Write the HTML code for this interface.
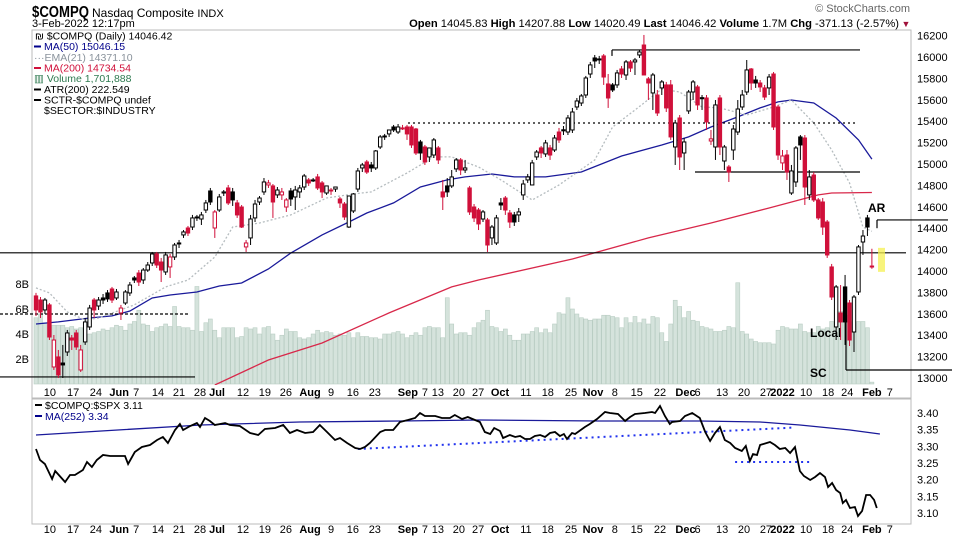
<!DOCTYPE html>
<html><head><meta charset="utf-8"><style>
body{margin:0;background:#fff;}
svg{display:block;font-family:"Liberation Sans",sans-serif;}
</style></head><body>
<svg id="c" width="960" height="540" viewBox="0 0 960 540">
<defs><clipPath id="mainClip"><rect x="32" y="30" width="879" height="355"/></clipPath>
<clipPath id="rsClip"><rect x="32" y="399" width="879" height="125"/></clipPath></defs>
<g>
<text x="32" y="17" font-size="16" font-weight="bold" textLength="57" lengthAdjust="spacingAndGlyphs">$COMPQ</text>
<text x="92" y="17" font-size="12">Nasdaq Composite <tspan font-size="11">INDX</tspan></text>
<text x="32" y="27" font-size="11">3-Feb-2022 12:17pm</text>
<text x="910" y="12" font-size="11" fill="#666" text-anchor="end">© StockCharts.com</text>
<text x="899" y="27" font-size="11.2" text-anchor="end"><tspan font-weight="bold">Open</tspan> 14045.83  <tspan font-weight="bold">High</tspan> 14207.88  <tspan font-weight="bold">Low</tspan> 14020.49  <tspan font-weight="bold">Last</tspan> 14046.42  <tspan font-weight="bold">Volume</tspan> 1.7M  <tspan font-weight="bold">Chg</tspan> -371.13 (-2.57%)</text>
<text x="906" y="27" font-size="9" fill="#a0103a" text-anchor="middle">▼</text>
</g>
<rect x="32" y="30" width="879" height="368" fill="none" stroke="#bbb"/>
<rect x="32" y="399" width="879" height="125" fill="none" stroke="#bbb"/>
<g id="vol" clip-path="url(#mainClip)"></g>
<g id="mas" clip-path="url(#mainClip)"></g>
<g id="ann"></g>
<g id="candles" clip-path="url(#mainClip)"></g>
<g id="axes"></g>
<g id="rs" clip-path="url(#rsClip)"></g>
<g font-size="10.5">
<text x="35" y="39.5">₪ $COMPQ (Daily) 14046.42</text>
<rect x="34" y="45.5" width="7" height="2" fill="#00008b"/><text x="44" y="50" fill="#00008b">MA(50) 15046.15</text>
<text x="34" y="61" fill="#8a939c">···EMA(21) 14371.10</text>
<rect x="34" y="67" width="7" height="2" fill="#d0103a"/><text x="44" y="71.5" fill="#d0103a">MA(200) 14734.54</text>
<text x="34" y="82" fill="#2e7a50">▥ Volume 1,701,888</text>
<rect x="34" y="88.5" width="7" height="2" fill="#000"/><text x="44" y="93">ATR(200) 222.549</text>
<rect x="34" y="99" width="7" height="2" fill="#000"/><text x="44" y="103.5">SCTR-$COMPQ undef</text>
<text x="44" y="114">$SECTOR:$INDUSTRY</text>
</g>
<g font-size="10.5">
<rect x="35" y="404" width="7" height="2" fill="#000"/><text x="45" y="409">$COMPQ:$SPX 3.11</text>
<rect x="35" y="415" width="7" height="2" fill="#00008b"/><text x="45" y="420" fill="#00008b">MA(252) 3.34</text>
</g>
</svg>
<script>
const opens=[13767,13729,13636,13683,13103,13197,13140,13243,13374,13421,
13075,13337,13477,13729,13673,13748,13795,13832,13748,13608,
13701,13795,13935,13981,13916,14009,14075,14159,14084,13991,
14038,14131,14262,14337,14402,14411,14505,14486,14570,14748,
14402,14570,14729,14776,14739,14636,14598,14225,14309,14496,
14645,14739,14804,14795,14711,14711,14598,14748,14692,14739,
14785,14851,14851,14879,14823,14729,14757,14766,14673,14626,
14411,14561,14766,14963,15019,14991,14963,15159,15262,15281,
15346,15299,15337,15346,15346,15327,15206,15159,15066,15084,
15150,14739,14795,14795,14954,15038,14944,14776,14598,14570,
14486,14477,14309,14262,14636,14682,14542,14524,14524,14711,
14851,14804,15066,15150,15094,15150,15131,15299,15320,15299,
15318,15533,15570,15645,15841,15991,15982,16010,15748,15739,
15739,15888,15832,15954,15954,16019,16112,15795,15664,15645,
15711,15739,15739,15159,15430,15103,15496,15673,15720,15620,
15617,15215,15159,15617,15028,14972,15131,15299,15533,15673,
15888,15785,15757,15711,15711,15841,15533,15010,15084,14729,
14832,15253,15243,14711,14897,14664,14645,14458,14038,13477,
13608,13851,13701,13430,13804,14271,14496,14045.83];
const highs=[13795,13757,13748,13701,13402,13262,13309,13449,13402,13449,
13309,13561,13683,13748,13757,13785,13822,13851,13832,13683,
13822,13897,13953,14009,14028,14084,14178,14178,14122,14178,
14159,14262,14290,14383,14421,14524,14524,14552,14664,14776,
14570,14720,14757,14804,14776,14664,14617,14290,14524,14664,
14701,14869,14851,14813,14785,14776,14682,14776,14795,14804,
14907,14869,14869,14907,14841,14795,14776,14785,14692,14645,
14701,14729,14963,15010,15038,15019,15131,15271,15281,15318,
15365,15374,15365,15365,15365,15337,15225,15178,15150,15243,
15168,14851,14869,14944,15056,15056,15038,14795,14626,14589,
14570,14496,14430,14524,14682,14701,14570,14552,14589,14851,
14907,15038,15131,15168,15225,15178,15271,15337,15355,15458,
15524,15617,15654,15823,15954,16019,16010,16028,15841,15757,
15879,15916,15972,15972,15991,16066,16206,15813,15851,15692,
15785,15767,15785,15412,15458,15243,15692,15785,15739,15645,
15645,15318,15598,15645,15178,14991,15365,15598,15692,15972,
15897,15823,15785,15739,15841,15860,15552,15131,15131,14991,
15168,15271,15271,14944,14925,14682,14682,14477,14066,13869,
13869,13963,13729,13776,14243,14383,14524,14207.88];
const lows=[13580,13561,13598,13355,13075,13000,13000,13206,13262,13262,
13056,13309,13449,13561,13636,13692,13711,13701,13729,13542,
13683,13767,13888,13860,13879,13991,14047,14028,13897,13963,
13935,14103,14215,14309,14327,14383,14468,14430,14542,14617,
14309,14552,14701,14617,14608,14496,14402,14178,14243,14458,
14617,14711,14776,14496,14682,14664,14552,14608,14570,14682,
14757,14795,14832,14757,14682,14711,14711,14739,14589,14477,
14402,14542,14739,14925,14907,14925,14944,15140,15225,15253,
15299,15281,15318,15225,15150,15084,15038,14991,15019,15056,
15000,14570,14692,14776,14925,14897,14916,14524,14458,14383,
14458,14178,14243,14243,14570,14524,14402,14421,14458,14664,
14823,14804,15038,15056,15066,15038,15112,15197,15271,15271,
15290,15505,15542,15617,15804,15897,15935,15739,15524,15673,
15711,15804,15785,15860,15832,15991,15832,15598,15505,15449,
15645,15486,15225,14991,14944,14944,15468,15598,15505,15505,
15318,15178,15038,15084,14944,14832,15038,15271,15505,15645,
15692,15711,15673,15598,15645,15318,15038,14944,14851,14711,
14785,15038,14617,14664,14645,14477,14337,14122,13729,13355,
13355,13309,13299,13243,13776,14150,14327,14020.49];
const closes=[13636,13617,13729,13383,13355,13028,13122,13421,13355,13290,
13262,13524,13654,13636,13729,13729,13739,13729,13804,13654,
13804,13869,13916,13897,14009,14056,14159,14056,14009,14150,
14131,14243,14253,14365,14355,14496,14496,14524,14636,14645,
14552,14692,14739,14636,14664,14524,14411,14262,14486,14626,
14682,14832,14823,14645,14757,14739,14664,14673,14757,14776,
14888,14823,14851,14776,14739,14795,14757,14785,14636,14505,
14701,14720,14935,14991,14925,14963,15122,15253,15253,15318,
15318,15346,15337,15281,15178,15103,15103,15019,15150,15225,
15038,14692,14739,14879,15038,14944,14963,14552,14496,14440,
14552,14243,14411,14496,14617,14570,14458,14458,14552,14813,
14879,15010,15112,15103,15197,15084,15243,15225,15310,15430,
15486,15589,15636,15804,15926,15963,15982,15813,15617,15692,
15851,15841,15954,15897,15972,16047,15832,15757,15832,15477,
15767,15524,15253,15383,15066,15206,15673,15767,15552,15610,
15393,15235,15552,15159,15159,14925,15327,15514,15645,15879,
15757,15757,15720,15626,15813,15346,15084,15075,14925,14935,
15150,15178,14785,14879,14664,14496,14411,14150,13757,13851,
13524,13524,13355,13757,14225,14327,14411,14046.42];
const volumes=[5.3,5.6,4.9,4.7,4.7,4.7,4.7,4.5,4.6,4.4,4.5,4.3,4.0,4.1,4.2,4.4,4.3,4.5,4.7,4.6,
4.3,4.8,5.0,5.9,4.8,4.7,4.2,4.5,4.6,4.8,4.6,6.2,4.6,4.5,4.5,
4.3,7.8,4.2,4.9,5.2,4.3,3.7,4.5,4.5,4.5,3.7,3.8,4.5,4.4,4.5,4.0,4.5,4.6,4.0,3.5,3.9,4.4,4.2,4.2,3.7,
3.6,3.7,4.0,4.3,4.1,4.2,4.1,3.9,4.0,3.9,4.1,3.7,4.1,3.8,3.8,3.7,3.7,3.6,4.0,4.0,
4.1,4.2,4.0,3.7,3.9,4.1,3.9,4.5,4.6,4.5,4.5,3.7,6.9,4.8,4.0,4.1,4.1,3.9,4.5,4.9,
5.1,5.9,4.6,4.5,4.2,4.4,3.9,3.5,3.5,4.0,4.0,4.2,4.5,4.1,4.4,4.1,4.8,5.7,5.6,6.9,
6.0,5.6,5.3,5.2,5.1,5.2,5.2,5.5,5.5,5.4,5.3,4.5,5.3,4.9,5.4,4.9,5.2,4.8,5.4,5.3,
4.1,3.4,4.8,6.7,6.2,5.3,5.8,5.1,5.0,4.6,4.5,4.4,
4.2,4.2,4.3,4.6,4.5,8.1,4.2,4.0,3.6,3.4,3.3,3.3,3.3,3.2,4.3,4.6,4.5,4.4,4.4,4.8,
4.2,4.1,4.1,4.6,4.4,4.5,5.0,5.9,5.8,5.5,5.0,4.9,5.0,5.0,4.5,0.15];
const ma50Bars=[0,5,12,17,21,26,30,36,41,46,52,57,64,70,74,80,86,92,96,102,107,114,122,131,140,146,151,157,162,166,169,174,179,184,187];
const ma50Vals=[13505,13524,13561,13580,13626,13748,13776,13804,13860,13888,14019,14168,14337,14458,14542,14636,14785,14851,14879,14907,14879,14879,14925,15075,15178,15253,15346,15440,15524,15580,15598,15570,15430,15225,15046];
const ma200Bars=[40,52,64,79,93,99,120,137,151,164,175,178,187];
const ma200Vals=[12935,13168,13327,13608,13851,13916,14112,14309,14449,14589,14711,14729,14734];
const emaBars=[0,3,7,11,14,22,29,34,40,44,50,57,65,71,75,83,89,93,99,104,111,117,125,129,134,140,144,149,153,159,165,169,174,178,182,185,187];
const emaVals=[13842,13795,13617,13542,13561,13683,13851,13916,14131,14411,14449,14524,14682,14720,14739,14916,15066,15066,14972,14851,14664,14804,15038,15346,15505,15701,15673,15533,15524,15458,15533,15598,15383,15131,14823,14411,14371];
const rsBars=[0,0.9,2,3.6,4.3,6.5,7.6,8.7,10.5,11.4,12.5,13.6,15,16.6,19.9,20.6,22.1,23.7,25.5,27.1,28.4,29.5,31.1,32.2,32.9,34.5,36,36.7,37.8,38.9,40,42.3,43.4,45.6,47.9,49.7,51.2,53.5,55.3,56.8,58.4,60.2,62,63.5,65.1,66.9,68,69.6,71.4,72.5,73.6,74.7,77,78.1,79.9,81.4,83.2,84.8,85.9,87,89.3,90.8,92.6,93.7,95.3,96.6,98.2,99.3,100.4,101.6,102.5,103.8,104.5,106,107.2,108.3,109.4,110.5,111.6,112.8,113.9,115,116.1,117.2,118.1,118.8,119.9,120.6,122.8,123.9,125.5,127.3,128.4,130.2,131.8,132.9,134,136.2,137.8,138.5,139.6,140.7,141.8,142.3,144.1,145.2,146.8,148.5,149.7,150.8,151.9,153,154.1,155.3,156.4,157.9,158.8,159.7,160.4,161.3,162,164.2,165.3,166.4,167.6,168.7,169.8,170.9,171.8,173.2,174.3,175.4,176.5,177.2,178.1,179,179.9,180.5,181.2,182.1,183.2,183.9,184.8,185.7,186.6,187.5,188.1];
const rsVals=[3.292,3.259,3.247,3.202,3.226,3.193,3.214,3.214,3.229,3.253,3.238,3.259,3.274,3.271,3.271,3.247,3.283,3.298,3.304,3.319,3.328,3.310,3.349,3.367,3.349,3.361,3.370,3.358,3.385,3.376,3.364,3.370,3.364,3.361,3.340,3.334,3.352,3.355,3.364,3.340,3.349,3.340,3.343,3.364,3.343,3.319,3.325,3.310,3.295,3.292,3.298,3.310,3.343,3.349,3.349,3.373,3.379,3.385,3.400,3.391,3.391,3.385,3.385,3.394,3.382,3.388,3.379,3.373,3.343,3.337,3.355,3.346,3.325,3.334,3.328,3.331,3.322,3.322,3.331,3.334,3.328,3.340,3.343,3.331,3.337,3.322,3.340,3.337,3.358,3.367,3.382,3.403,3.400,3.397,3.376,3.388,3.397,3.400,3.403,3.400,3.421,3.391,3.367,3.373,3.376,3.391,3.400,3.385,3.343,3.316,3.340,3.358,3.319,3.310,3.295,3.286,3.301,3.256,3.277,3.274,3.304,3.313,3.304,3.292,3.295,3.280,3.298,3.226,3.211,3.199,3.208,3.220,3.208,3.178,3.190,3.169,3.160,3.130,3.139,3.115,3.118,3.091,3.106,3.154,3.154,3.139,3.115];
const rsMaBars=[0,14.6,36.9,59,81.4,99.3,126,148.5,162,170.9,182.1,188.8];
const rsMaVals=[3.334,3.346,3.364,3.373,3.376,3.379,3.376,3.376,3.373,3.364,3.349,3.337];
const priceTicks=[13000,13200,13400,13600,13800,14000,14200,14400,14600,14800,15000,15200,15400,15600,15800,16000,16200];
const volTicks=[2,4,6,8];
const rsTicks=[3.10,3.15,3.20,3.25,3.30,3.35,3.40];
const dateBars=[3.1,8.3,13.4,18.6,22.4,27.3,32,36.7,40.5,46.3,51.2,55.9,61.3,66,70.9,75.8,83.2,87,89.9,94.6,98.9,103.8,109.6,114.5,119.7,124.6,129.5,134.4,139.6,145.3,148,153.5,158.4,163.3,167,172.3,177.2,181.5,187,191];
const dateLabels=["10","17","24","Jun","7","14","21","28","Jul","12","19","26","Aug","9","16","23","Sep","7","13","20","27","Oct","11","18","25","Nov","8","15","22","Dec","6","13","20","27","2022","10","18","24","Feb","7"];
const boldLabels=["Jun","Jul","Aug","Sep","Oct","Nov","Dec","2022","Feb"];

const NS="http://www.w3.org/2000/svg";
const xB=i=>36+4.47*i;
const yP=p=>164-(p-15000)*0.107;
const yV=v=>384-12.5*v;
const yR=v=>413+(3.40-v)*333.3;
function mk(tag,attrs,parent){const e=document.createElementNS(NS,tag);for(const k in attrs)e.setAttribute(k,attrs[k]);parent.appendChild(e);return e;}
const gVol=document.getElementById('vol'),gC=document.getElementById('candles'),gM=document.getElementById('mas'),gA=document.getElementById('axes'),gR=document.getElementById('rs'),gN=document.getElementById('ann');

volumes.forEach((v,i)=>{
 const r=mk('rect',{x:xB(i)-2,y:yV(v),width:4,height:384-yV(v),fill:'#d5e3dc',stroke:'#b9cdc3','stroke-width':0.6},gVol);
 
 
});
function line(bars,vals,yf,attrs,name,parent){
 const d=bars.map((b,i)=>(i?'L':'M')+xB(b).toFixed(1)+' '+yf(vals[i]).toFixed(1)).join(' ');
 const p=mk('path',Object.assign({d:d,fill:'none'},attrs),parent);
 
 
}
line(ma200Bars,ma200Vals,yP,{stroke:'#d8284a','stroke-width':1.3},'ma200-line',gM);
line(ma50Bars,ma50Vals,yP,{stroke:'#1a1a9a','stroke-width':1.3},'ma50-line',gM);
line(emaBars,emaVals,yP,{stroke:'#b5bcbf','stroke-width':1.3,'stroke-dasharray':'2 2'},'ema21-line',gM);

closes.forEach((c,i)=>{
 const o=opens[i],pc=i?closes[i-1]:o;
 const up=c>=pc,hollow=c>=o;
 const col=up?'#000':'#d0103a';
 const x=xB(i);
 const w=mk('line',{x1:x,x2:x,y1:yP(highs[i]),y2:yP(lows[i]),stroke:col,'stroke-width':1},gC);
 
 
 const t=Math.min(yP(o),yP(c)),h=Math.max(1,Math.abs(yP(o)-yP(c)));
 const b=mk('rect',{x:x-1.7,y:t,width:3.4,height:h,fill:hollow?'#fff':col,stroke:col,'stroke-width':1},gC);
 
 
});

const A=[[0,yP(14170),906,yP(14170),''],[0,yP(13010),195,yP(13010),''],[0,yP(13598),189,yP(13598),'3 2'],
[408,yP(15383),858,yP(15383),'2 3'],[612,yP(16066),860,yP(16066),''],[612,yP(16066),612,yP(16010),''],
[695,yP(14925),860,yP(14925),''],[877,yP(14477),948,yP(14477),''],[877,yP(14477),877,yP(14400),''],
[846,yP(13850),846,yP(13075),''],[846,yP(13075),952,yP(13075),'']];
A.forEach(a=>{const l=mk('line',{x1:a[0],y1:a[1],x2:a[2],y2:a[3],stroke:'#000','stroke-width':1.2,'stroke-dasharray':a[4]||'none'},gN);
 
 });
const hl=mk('rect',{x:878,y:yP(14207)-1,width:7,height:yP(14020)-yP(14207)+4,fill:'#f5f050',opacity:0.75},gN);


[[868,212,'AR'],[810,337,'Local'],[810,377,'SC']].forEach(t=>{const e=mk('text',{x:t[0],y:t[1],'font-size':12,'font-weight':'bold'},gN);e.textContent=t[2];
 
 });

priceTicks.forEach(p=>{const e=mk('text',{x:917,y:yP(p)+4,'font-size':11},gA);e.textContent=p;
 
 });
volTicks.forEach(v=>{const e=mk('text',{x:29,y:yV(v)+4,'font-size':11,'text-anchor':'end'},gA);e.textContent=v+'B';
 
 });
rsTicks.forEach(v=>{const e=mk('text',{x:917,y:yR(v)+4,'font-size':11},gA);e.textContent=v.toFixed(2);
 
 });
dateBars.forEach((b,i)=>{const bold=boldLabels.includes(dateLabels[i]);
 [396,533].forEach(yy=>{const e=mk('text',{x:xB(b),y:yy,'font-size':11,'text-anchor':'middle','font-weight':bold?'bold':'normal'},gA);e.textContent=dateLabels[i];
 
 });});

line(rsMaBars,rsMaVals,yR,{stroke:'#1a1a9a','stroke-width':1.3},'rs-ma-line',gR);
const d1=mk('line',{x1:xB(72),y1:yR(3.292),x2:xB(169),y2:yR(3.356),stroke:'#2233ee','stroke-width':2,'stroke-dasharray':'2 4'},gR);


const d2=mk('line',{x1:xB(156.4),y1:yR(3.253),x2:xB(173.2),y2:yR(3.253),stroke:'#2233ee','stroke-width':2,'stroke-dasharray':'2 4'},gR);


line(rsBars,rsVals,yR,{stroke:'#000','stroke-width':1.8},'rs-line',gR);
</script>
</body></html>
